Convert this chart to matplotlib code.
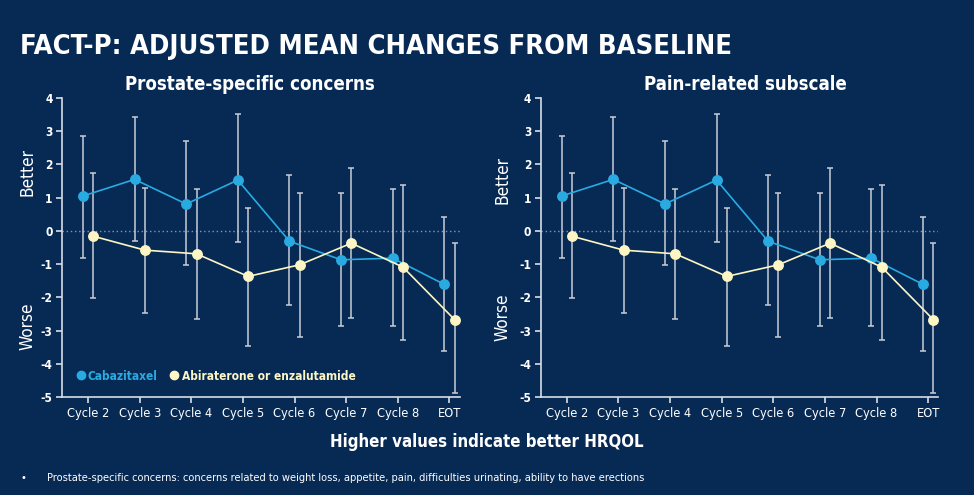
import matplotlib.pyplot as plt
from matplotlib import font_manager as fm
import numpy as np

# data
categories = ["Cycle 2", "Cycle 3", "Cycle 4", "Cycle 5", "Cycle 6", "Cycle 7", "Cycle 8", "EOT"]

caba_mean = [1.05, 1.55, 0.81, 1.53, -0.31, -0.87, -0.82, -1.61]
caba_hi = [2.87, 3.43, 2.71, 3.53, 1.69, 1.14, 1.25, 0.41]
caba_lo = [-0.81, -0.31, -1.04, -0.34, -2.24, -2.85, -2.85, -3.62]

abi_mean = [-0.16, -0.58, -0.69, -1.37, -1.02, -0.37, -1.09, -2.67]
abi_hi = [1.75, 1.28, 1.26, 0.69, 1.13, 1.88, 1.39, -0.36]
abi_lo = [-2.02, -2.48, -2.64, -3.46, -3.18, -2.61, -3.29, -4.89]

panel_titles = ["Prostate-specific concerns", "Pain-related subscale"]
series_names = ["Cabazitaxel", "Abiraterone or enzalutamide"]

# style
BG = "#072a55"
BLUE = "#29abe2"
YELLOW = "#fdf6c4"
ERR = "#c9ced8"


def find_font(*files):
    for f in fm.fontManager.ttflist:
        for want in files:
            if f.fname.endswith(want):
                return f.fname
    return None


reg_file = find_font("LiberationSansNarrow-Regular.ttf", "DejaVuSansCondensed.ttf")
bold_file = find_font("LiberationSansNarrow-Bold.ttf", "DejaVuSansCondensed-Bold.ttf")


def fp(size, bold=False):
    f = bold_file if bold else reg_file
    if f:
        return fm.FontProperties(fname=f, size=size)
    return fm.FontProperties(family="Liberation Sans", size=size * 0.9,
                             weight="bold" if bold else "normal")


fig = plt.figure(figsize=(9.74, 4.95), dpi=100, facecolor=BG)

fig.text(0.021, 0.905, "FACT-P: ADJUSTED MEAN CHANGES FROM BASELINE",
         color="white", fontproperties=fp(19.6, True), va="center")

x = np.arange(len(categories))
off = 0.1

# per panel: axes left, title x, (label x, better y, worse y)
panels = [(0.064, 0.472, -0.088, 0.751, 0.236),
          (0.5555, 0.514, -0.098, 0.726, 0.267)]

for k, (left, tx, lx, by, wy) in enumerate(panels):
    ax = fig.add_axes([left, 0.198, 0.408, 0.604])
    ax.set_facecolor(BG)

    ax.axhline(0, color="#8a94a8", lw=1, ls=(0, (1, 2)), zorder=1)

    for mean, hi, lo, dx, c, name in [
        (caba_mean, caba_hi, caba_lo, -off, BLUE, series_names[0]),
        (abi_mean, abi_hi, abi_lo, off, YELLOW, series_names[1]),
    ]:
        mean = np.array(mean)
        yerr = [mean - np.array(lo), np.array(hi) - mean]
        ax.errorbar(x + dx, mean, yerr=yerr, fmt="none", ecolor=ERR,
                    elinewidth=1.1, capsize=2.5, capthick=1.1, zorder=2)
        ax.plot(x + dx, mean, color=c, lw=1.2, marker="o", ms=6.8,
                mec=c, mfc=c, zorder=3, label=name)

    ax.set_xlim(-0.5, 7.2)
    ax.set_ylim(-5, 4)
    ax.set_yticks(range(-5, 5))
    ax.set_yticklabels([str(v) for v in range(-5, 5)])
    ax.set_xticks(x)
    ax.set_xticklabels(categories)

    for s in ["top", "right"]:
        ax.spines[s].set_visible(False)
    for s in ["left", "bottom"]:
        ax.spines[s].set_color("#d8dce4")
        ax.spines[s].set_linewidth(1.2)
    ax.tick_params(colors="#d8dce4", labelcolor="white", width=1.2, length=4)
    ax.tick_params(axis="y", pad=3)
    for lab in ax.get_xticklabels():
        lab.set_fontproperties(fp(9.2))
    for lab in ax.get_yticklabels():
        lab.set_fontproperties(fp(8.6, True))

    ax.set_title(panel_titles[k], color="white", fontproperties=fp(13.4, True),
                 pad=6, x=tx)

    ax.text(lx, by, "Better", transform=ax.transAxes, rotation=90,
            color="white", fontproperties=fp(12.3), ha="center", va="center")
    ax.text(lx, wy, "Worse", transform=ax.transAxes, rotation=90,
            color="white", fontproperties=fp(12.3), ha="center", va="center")

    if k == 0:
        leg = ax.legend(loc="lower left", bbox_to_anchor=(0.01, 0.012), ncol=2,
                        frameon=False, handlelength=0.6, handletextpad=0.3,
                        columnspacing=1.1, labelcolor="linecolor",
                        prop=fp(8.6, True))
        for h in leg.legend_handles:
            h.set_linestyle("none")
            h.set_markersize(6)

fig.text(0.5, 0.108, "Higher values indicate better HRQOL", color="white",
         fontproperties=fp(12.1, True), ha="center", va="center")
fig.text(0.021, 0.035, "\u2022", color="white", fontproperties=fp(8), va="center")
fig.text(0.048, 0.035,
         "Prostate-specific concerns: concerns related to weight loss, appetite, pain, "
         "difficulties urinating, ability to have erections",
         color="white", fontproperties=fp(7.9), va="center")

fig.savefig("out.png", dpi=100, facecolor=BG)
